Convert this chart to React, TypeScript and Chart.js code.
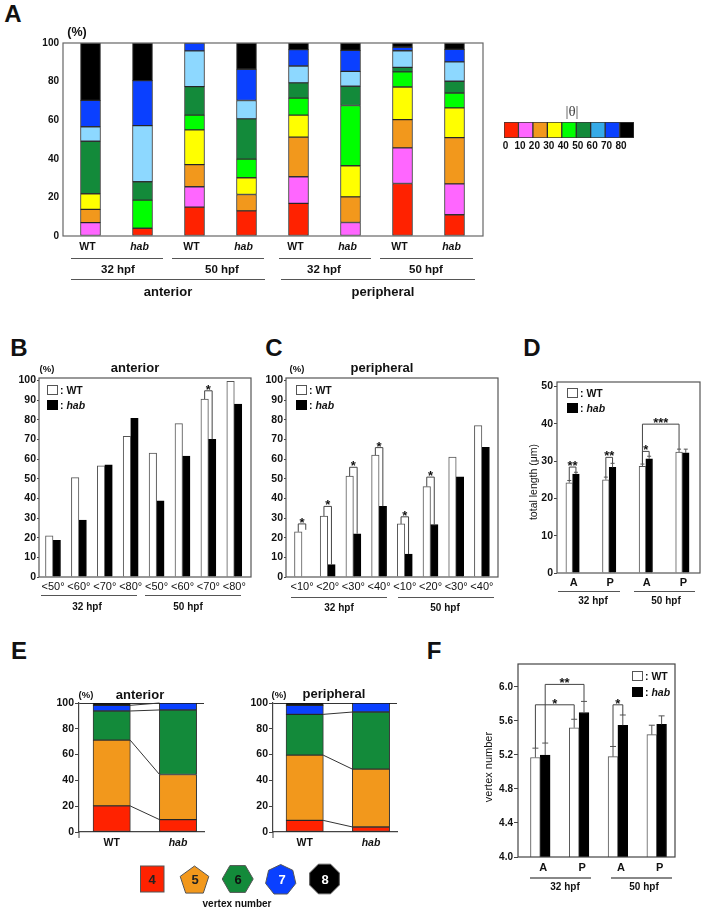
import React, { useEffect, useRef } from "react";
import { Chart, registerables } from "chart.js";

Chart.register(...registerables);

const FONT = '"Liberation Sans", Arial, sans-serif';
const INK = "#111";
const FRAME = "#555";

/* ---------- Panel A data ---------- */
const aLabels = ["WT", "hab", "WT", "hab", "WT", "hab", "WT", "hab"];
const aRed = [0, 4, 15, 13, 16.9, 0, 27.2, 11];
const aPink = [6.9, 0, 10.5, 0, 13.8, 7, 18.5, 16];
const aOrange = [6.9, 0, 11.5, 8.5, 20.5, 13.3, 14.6, 24];
const aYellow = [8.1, 0, 18, 8.7, 11.4, 16.1, 16.9, 15.4];
const aGreen = [0, 14.6, 7.6, 9.6, 8.8, 31.2, 7.8, 7.7];
const aDarkGreen = [27.2, 9.5, 14.8, 20.9, 7.9, 10, 2.4, 6.1];
const aLightBlue = [7.5, 29.1, 18.5, 9.5, 8.8, 7.7, 8.6, 10];
const aBlue = [13.7, 23.3, 4.1, 16.2, 8.5, 10.9, 1.8, 6.5];
const aBlack = [29.7, 19.5, 0, 13.6, 3.4, 3.8, 2.2, 3.3];
const aBins = [aRed, aPink, aOrange, aYellow, aGreen, aDarkGreen, aLightBlue, aBlue, aBlack];
const aColors = ["#FF2200", "#FF66FF", "#F2981C", "#FFFF00", "#00FF00", "#138A3A", "#8DD8FF", "#0A40FF", "#000000"];

/* ---------- Colour key ---------- */
const keyBinSize = [10];
const keyColors = ["#FF2200", "#FF66FF", "#F2981C", "#FFFF00", "#00FF00", "#138A3A", "#35AAE8", "#0A40FF", "#000000"];

/* ---------- Panel B data ---------- */
const bLabels = ["<50°", "<60°", "<70°", "<80°", "<50°", "<60°", "<70°", "<80°"];
const bWT = [21, 50.5, 56.5, 71.5, 63, 78, 90.5, 99.5];
const bHab = [18.7, 29, 57, 80.7, 38.7, 61.5, 70, 88];

/* ---------- Panel C data ---------- */
const cLabels = ["<10°", "<20°", "<30°", "<40°", "<10°", "<20°", "<30°", "<40°"];
const cWT = [23, 31, 51.3, 62, 27, 46, 61, 77];
const cHab = [0, 6.3, 22, 36, 11.7, 26.7, 51, 66];

/* ---------- Panel D data ---------- */
const dLabels = ["A", "P", "A", "P"];
const dWT = [24.2, 25, 28.6, 32.4];
const dHab = [26.5, 28.3, 30.6, 32.2];
const dWTTop = [24.8, 25.7, 29.2, 33.2];
const dHabTop = [27, 29.4, 31.3, 33.2];

/* ---------- Panel E data ---------- */
const eLabels = ["WT", "hab"];
const eAnt4 = [20.2, 9.6];
const eAnt5 = [51, 35];
const eAnt6 = [22.6, 50];
const eAnt7 = [4.4, 5.4];
const eAnt8 = [1.8, 0];
const ePer4 = [9, 3.9];
const ePer5 = [50.6, 44.8];
const ePer6 = [31.6, 44.3];
const ePer7 = [7, 7];
const ePer8 = [1.8, 0];
const eColors = ["#FF2200", "#F2981C", "#138A3A", "#0A40FF", "#000000"];

/* ---------- Panel F data ---------- */
const fLabels = ["A", "P", "A", "P"];
const fWT = [5.17, 5.52, 5.18, 5.44];
const fHab = [5.2, 5.7, 5.55, 5.56];
const fWTTop = [5.28, 5.62, 5.3, 5.55];
const fHabTop = [5.34, 5.83, 5.67, 5.66];

/* ---------- Significance brackets: [series, group] pairs, bracket height in axis units ---------- */
const bBrackets = [{ a: [0, 6], b: [1, 6], top: 94.7, stars: "*" }];
const cBrackets = [
  { a: [0, 0], b: [1, 0], top: 27, stars: "*", bTo: 24 },
  { a: [0, 1], b: [1, 1], top: 35.9, stars: "*" },
  { a: [0, 2], b: [1, 2], top: 55.8, stars: "*" },
  { a: [0, 3], b: [1, 3], top: 65.8, stars: "*" },
  { a: [0, 4], b: [1, 4], top: 30.6, stars: "*" },
  { a: [0, 5], b: [1, 5], top: 50.8, stars: "*" },
];
const dBrackets = [
  { a: [0, 0], b: [1, 0], top: 28.4, stars: "**" },
  { a: [0, 1], b: [1, 1], top: 31, stars: "**" },
  { a: [0, 2], b: [1, 2], top: 32.6, stars: "*" },
  { a: [0, 2], b: [0, 3], top: 39.9, stars: "***", aTo: 29.6 },
];
const fBrackets = [
  { a: [1, 0], b: [1, 1], top: 6.03, stars: "**" },
  { a: [0, 0], b: [0, 1], top: 5.79, stars: "*" },
  { a: [0, 2], b: [1, 2], top: 5.79, stars: "*" },
];

type Rect = { l: number; t: number; r: number; b: number };
const M = { l: 45, t: 10, r: 10, b: 30 };

const framePlugin = (color: string) => ({
  id: "frame",
  afterDatasetsDraw(chart: any) {
    const { left, top, right, bottom } = chart.chartArea;
    const c = chart.ctx;
    c.save();
    c.strokeStyle = color;
    c.lineWidth = 1.2;
    c.strokeRect(left, top, right - left, bottom - top);
    c.restore();
  },
});

const errorPlugin = (tops: number[][], cap: number) => ({
  id: "errors",
  afterDatasetsDraw(chart: any) {
    const c = chart.ctx;
    const y = chart.scales.y;
    c.save();
    c.strokeStyle = "#555";
    c.lineWidth = 1;
    tops.forEach((arr, ds) =>
      arr.forEach((v, i) => {
        const el = chart.getDatasetMeta(ds).data[i];
        const yT = y.getPixelForValue(v);
        c.beginPath();
        c.moveTo(el.x, el.y);
        c.lineTo(el.x, yT);
        c.moveTo(el.x - cap, yT);
        c.lineTo(el.x + cap, yT);
        c.stroke();
      })
    );
    c.restore();
  },
});

const bracketPlugin = (brackets: any[], series: number[][]) => ({
  id: "brackets",
  afterDatasetsDraw(chart: any) {
    const c = chart.ctx;
    const y = chart.scales.y;
    c.save();
    brackets.forEach((br) => {
      const xa = chart.getDatasetMeta(br.a[0]).data[br.a[1]].x;
      const xb = chart.getDatasetMeta(br.b[0]).data[br.b[1]].x;
      const ya = y.getPixelForValue(br.aTo ?? series[br.a[0]][br.a[1]]);
      const yb = y.getPixelForValue(br.bTo ?? series[br.b[0]][br.b[1]]);
      const yt = y.getPixelForValue(br.top);
      c.strokeStyle = "#444";
      c.lineWidth = 1;
      c.beginPath();
      c.moveTo(xa, ya);
      c.lineTo(xa, yt);
      c.lineTo(xb, yt);
      c.lineTo(xb, yb);
      c.stroke();
      c.fillStyle = INK;
      c.font = `bold 13px ${FONT}`;
      c.textAlign = "center";
      c.textBaseline = "alphabetic";
      c.fillText(br.stars, (xa + xb) / 2, yt + 3);
    });
    c.restore();
  },
});

const connectorPlugin = (segments: number[][], joins: number[]) => ({
  id: "connectors",
  afterDatasetsDraw(chart: any) {
    const c = chart.ctx;
    const y = chart.scales.y;
    const half = 18.5;
    c.save();
    c.strokeStyle = "#333";
    c.lineWidth = 1;
    joins.forEach((k) => {
      const sum = (col: number) => segments.slice(0, k + 1).reduce((s, a) => s + a[col], 0);
      const e0 = chart.getDatasetMeta(0).data[0];
      const e1 = chart.getDatasetMeta(0).data[1];
      c.beginPath();
      c.moveTo(e0.x + half, y.getPixelForValue(sum(0)));
      c.lineTo(e1.x - half, y.getPixelForValue(sum(1)));
      c.stroke();
    });
    const { left, bottom } = chart.chartArea;
    c.strokeStyle = "#444";
    c.beginPath();
    c.moveTo(left, bottom);
    c.lineTo(left, bottom + 6);
    c.stroke();
    c.restore();
  },
});

function xScale(rect: Rect, labels: string[], c0: number, step: number, o: any = {}) {
  return {
    type: "linear",
    offset: false,
    stacked: !!o.stacked,
    min: (rect.l - c0) / step,
    max: (rect.r - c0) / step,
    afterFit: (s: any) => {
      s.height = M.b;
    },
    grid: { display: false, drawTicks: false },
    border: { display: !!o.border, color: "#444", width: 1.2 },
    ticks: {
      stepSize: 1,
      includeBounds: false,
      autoSkip: false,
      maxRotation: 0,
      minRotation: 0,
      padding: o.pad ?? 5,
      labelOffset: o.labelOffset ?? 0,
      color: INK,
      callback: (v: number) => labels[v] ?? "",
      font: (ctx: any) => ({
        family: FONT,
        size: o.size ?? 10.5,
        weight: o.weight ?? "bold",
        style: labels[ctx.tick?.value] === "hab" ? "italic" : "normal",
      }),
    },
  };
}

function yScale(o: any) {
  return {
    type: "linear",
    stacked: !!o.stacked,
    min: o.min ?? 0,
    max: o.max,
    afterFit: (s: any) => {
      s.width = M.l;
    },
    border: { display: !!o.border, color: "#444", width: 1.2 },
    grid: {
      drawOnChartArea: !!o.topLine,
      drawTicks: o.tick > 0,
      tickLength: o.tick,
      tickColor: "#444",
      color: (ctx: any) => (o.topLine && ctx.tick?.value === o.max ? "#333" : "rgba(0,0,0,0)"),
    },
    ticks: {
      stepSize: o.step,
      includeBounds: false,
      padding: o.pad ?? 2,
      color: INK,
      font: { family: FONT, size: o.size ?? 10, weight: "bold" },
      callback: (v: number) => (o.fixed ? v.toFixed(o.fixed) : String(v)),
    },
  };
}

function base(rect: Rect, scales: any, plugins: any[], datasets: any[]) {
  return {
    type: "bar",
    data: { datasets },
    plugins,
    options: {
      responsive: false,
      animation: false,
      events: [],
      layout: { padding: { left: 0, top: M.t, right: M.r, bottom: 0 } },
      plugins: { legend: { display: false }, tooltip: { enabled: false } },
      scales,
    },
  };
}

function stackedSets(bins: number[][], colors: string[], thick: number) {
  return bins.map((vals, k) => ({
    label: String(k),
    data: vals.map((v, i) => ({ x: i, y: v })),
    backgroundColor: colors[k],
    borderColor: "rgba(20,20,20,0.85)",
    borderWidth: 1,
    borderSkipped: false,
    barThickness: thick,
  }));
}

function pairSets(wt: number[], hab: number[], thick: number) {
  const mk = (vals: number[], label: string, fill: string, line: string) => ({
    label,
    data: vals.map((v, i) => ({ x: i, y: v })),
    backgroundColor: fill,
    borderColor: line,
    borderWidth: 1,
    borderSkipped: "bottom",
    barThickness: thick,
  });
  return [mk(wt, "WT", "#fff", "#555"), mk(hab, "hab", "#000", "#000")];
}

const rectA: Rect = { l: 63, t: 43, r: 483, b: 236 };
const rectB: Rect = { l: 39, t: 378, r: 251, b: 577 };
const rectC: Rect = { l: 286, t: 378, r: 498, b: 577 };
const rectD: Rect = { l: 557, t: 382, r: 700, b: 573 };
const rectE1: Rect = { l: 79, t: 703, r: 204, b: 832 };
const rectE2: Rect = { l: 273, t: 703, r: 397, b: 832 };
const rectF: Rect = { l: 518, t: 664, r: 675, b: 857 };
const rectKey: Rect = { l: 504, t: 122, r: 634, b: 138 };

const panels: { rect: Rect; config: () => any }[] = [
  {
    rect: rectA,
    config: () =>
      base(
        rectA,
        {
          x: xScale(rectA, aLabels, 90.5, 52, { stacked: true, labelOffset: -3 }),
          y: yScale({ stacked: true, max: 100, step: 20, tick: 0, pad: 4 }),
        },
        [framePlugin("#666")],
        stackedSets(aBins, aColors, 20)
      ),
  },
  {
    rect: rectKey,
    config: () => ({
      type: "bar",
      data: {
        labels: ["|θ|"],
        datasets: keyColors.map((col, k) => ({
          label: String(k * 10),
          data: keyBinSize,
          backgroundColor: col,
          borderColor: "rgba(20,20,20,0.85)",
          borderWidth: 1,
          borderSkipped: false,
          barPercentage: 1,
          categoryPercentage: 1,
        })),
      },
      plugins: [],
      options: {
        indexAxis: "y",
        responsive: false,
        animation: false,
        events: [],
        layout: { padding: { left: M.l, top: M.t, right: M.r, bottom: 0 } },
        plugins: { legend: { display: false }, tooltip: { enabled: false } },
        scales: {
          x: {
            type: "linear",
            stacked: true,
            min: 0,
            max: 90,
            afterFit: (s: any) => {
              s.height = M.b;
            },
            grid: { display: false, drawTicks: false },
            border: { display: false },
            ticks: {
              stepSize: 10,
              padding: 2,
              autoSkip: false,
              maxRotation: 0,
              labelOffset: 1.5,
              color: INK,
              font: { family: FONT, size: 10, weight: "bold" },
              callback: (v: number) => (v <= 80 ? String(v) : ""),
            },
          },
          y: { stacked: true, display: false },
        },
      },
    }),
  },
  {
    rect: rectB,
    config: () =>
      base(
        rectB,
        {
          x: xScale(rectB, bLabels, 53, 25.9, { size: 11, weight: "normal", pad: 3 }),
          y: yScale({ max: 101.2, step: 10, tick: 2, pad: 1, size: 10.5 }),
        },
        [framePlugin(FRAME), bracketPlugin(bBrackets, [bWT, bHab])],
        pairSets(bWT, bHab, 7.5)
      ),
  },
  {
    rect: rectC,
    config: () =>
      base(
        rectC,
        {
          x: xScale(rectC, cLabels, 302, 25.7, { size: 11, weight: "normal", pad: 3 }),
          y: yScale({ max: 101.2, step: 10, tick: 2, pad: 1, size: 10.5 }),
        },
        [framePlugin(FRAME), bracketPlugin(cBrackets, [cWT, cHab])],
        pairSets(cWT, cHab, 7.5)
      ),
  },
  {
    rect: rectD,
    config: () =>
      base(
        rectD,
        {
          x: xScale(rectD, dLabels, 572.6, 36.6, { size: 11, pad: 3, labelOffset: 1 }),
          y: yScale({ max: 51.2, step: 10, tick: 3, pad: 1, size: 10.5 }),
        },
        [
          framePlugin(FRAME),
          errorPlugin([dWTTop, dHabTop], 2),
          bracketPlugin(dBrackets, [dWTTop, dHabTop]),
        ],
        pairSets(dWT, dHab, 6.7)
      ),
  },
  {
    rect: rectE1,
    config: () =>
      base(
        rectE1,
        {
          x: xScale(rectE1, eLabels, 111.7, 66.3, { stacked: true, border: true, pad: 5 }),
          y: yScale({ stacked: true, max: 100, step: 20, tick: 4, pad: 1, border: true, topLine: true, size: 10.5 }),
        },
        [connectorPlugin([eAnt4, eAnt5, eAnt6, eAnt7, eAnt8], [0, 1, 2, 3])],
        stackedSets([eAnt4, eAnt5, eAnt6, eAnt7, eAnt8], eColors, 37.3)
      ),
  },
  {
    rect: rectE2,
    config: () =>
      base(
        rectE2,
        {
          x: xScale(rectE2, eLabels, 304.7, 66.3, { stacked: true, border: true, pad: 5 }),
          y: yScale({ stacked: true, max: 100, step: 20, tick: 4, pad: 1, border: true, topLine: true, size: 10.5 }),
        },
        [connectorPlugin([ePer4, ePer5, ePer6, ePer7, ePer8], [0, 1, 2])],
        stackedSets([ePer4, ePer5, ePer6, ePer7, ePer8], eColors, 37.3)
      ),
  },
  {
    rect: rectF,
    config: () =>
      base(
        rectF,
        {
          x: xScale(rectF, fLabels, 540.3, 38.8, { size: 11, pad: 4, labelOffset: 3 }),
          y: yScale({ min: 4, max: 6.27, step: 0.4, tick: 4, pad: 1, fixed: 1, size: 10 }),
        },
        [
          framePlugin("#444"),
          errorPlugin([fWTTop, fHabTop], 3),
          bracketPlugin(fBrackets, [fWTTop, fHabTop]),
        ],
        pairSets(fWT, fHab, 9.8)
      ),
  },
];

/* ---------- DOM annotations ---------- */
function T(p: any) {
  const { x, y, s, size = 10, w = "bold", i, anchor = "c", color = INK, rot, serif } = p;
  const tx = anchor === "c" ? "-50%" : "0";
  return (
    <span
      style={{
        position: "absolute",
        left: x,
        top: y,
        transform: `translate(${tx},-50%)${rot ? ` rotate(${rot}deg)` : ""}`,
        fontFamily: serif ? '"Liberation Serif", serif' : FONT,
        fontSize: size,
        fontWeight: w,
        fontStyle: i ? "italic" : "normal",
        color,
        whiteSpace: "nowrap",
        lineHeight: 1,
      }}
    >
      {s}
    </span>
  );
}

function HL({ x1, x2, y, h = 1, c = "#555" }: any) {
  return <div style={{ position: "absolute", left: x1, top: y, width: x2 - x1, height: h, background: c }} />;
}

function Box({ x, y, w, h, black }: any) {
  return (
    <div
      style={{
        position: "absolute",
        left: x,
        top: y,
        width: w,
        height: h,
        boxSizing: "border-box",
        background: black ? "#000" : "#fff",
        border: `1px solid ${black ? "#000" : "#555"}`,
      }}
    />
  );
}

function Key({ bx, tx, y1, y2, w = 10.5, h = 10, size = 10.5 }: any) {
  return (
    <>
      <Box x={bx} y={y1} w={w} h={h} />
      <Box x={bx} y={y2} w={w} h={h} black />
      <T x={tx} y={y1 + h / 2} s=": WT" anchor="l" size={size} />
      <span
        style={{
          position: "absolute",
          left: tx,
          top: y2 + h / 2,
          transform: "translateY(-50%)",
          fontFamily: FONT,
          fontSize: size,
          fontWeight: "bold",
          color: INK,
          whiteSpace: "nowrap",
          lineHeight: 1,
        }}
      >
        : <i>hab</i>
      </span>
    </>
  );
}

function poly(n: number, cx: number, cy: number, r: number, start: number) {
  const pts: string[] = [];
  for (let i = 0; i < n; i++) {
    const a = start + (i * 2 * Math.PI) / n;
    pts.push(`${(cx + r * Math.cos(a)).toFixed(1)},${(cy + r * Math.sin(a)).toFixed(1)}`);
  }
  return pts.join(" ");
}

function Shapes() {
  const stroke = "#555";
  const num = (x: number, y: number, s: string, fill: string) => (
    <text x={x} y={y} textAnchor="middle" fontFamily={FONT} fontWeight="bold" fontSize={13} fill={fill}>
      {s}
    </text>
  );
  return (
    <svg width={704} height={913} style={{ position: "absolute", left: 0, top: 0 }}>
      <rect x={140.5} y={866} width={23.5} height={26} fill="#FF2200" stroke={stroke} />
      {num(152, 884, "4", "#222")}
      <polygon points={poly(5, 194.5, 881, 15, -Math.PI / 2)} fill="#F2981C" stroke={stroke} />
      {num(195, 884, "5", "#222")}
      <polygon points={poly(6, 237.7, 879, 15.5, 0)} fill="#138A3A" stroke={stroke} />
      {num(238, 884, "6", "#111")}
      <polygon points={poly(7, 280.7, 880, 15.5, -Math.PI / 2)} fill="#0A40FF" stroke={stroke} />
      {num(282, 884, "7", "#fff")}
      <polygon points={poly(8, 324.5, 879, 16, Math.PI / 8)} fill="#000" stroke={stroke} />
      {num(325, 884, "8", "#fff")}
    </svg>
  );
}

export default function App() {
  const refs = useRef<(HTMLCanvasElement | null)[]>([]);
  useEffect(() => {
    const charts = panels.map((p, i) => new Chart(refs.current[i] as any, p.config()));
    return () => charts.forEach((c) => c.destroy());
  }, []);

  return (
    <div style={{ position: "absolute", left: 0, top: 0, width: 704, height: 913, background: "#fff", overflow: "hidden" }}>
      {panels.map((p, i) => (
        <canvas
          key={i}
          ref={(el) => {
            refs.current[i] = el;
          }}
          width={p.rect.r - p.rect.l + M.l + M.r}
          height={p.rect.b - p.rect.t + M.t + M.b}
          style={{ position: "absolute", left: p.rect.l - M.l, top: p.rect.t - M.t }}
        />
      ))}

      {/* Panel letters */}
      <T x={13} y={14} s="A" size={24} />
      <T x={19} y={348} s="B" size={24} />
      <T x={274} y={348} s="C" size={24} />
      <T x={532} y={348} s="D" size={24} />
      <T x={19} y={651} s="E" size={24} />
      <T x={434} y={651} s="F" size={24} />

      {/* Panel A */}
      <T x={77} y={32} s="(%)" size={12.5} />
      <HL x1={71} x2={163} y={258} />
      <HL x1={172} x2={264} y={258} />
      <HL x1={279} x2={371} y={258} />
      <HL x1={380} x2={473} y={258} />
      <T x={118} y={269.5} s="32 hpf" size={11.5} />
      <T x={222} y={269.5} s="50 hpf" size={11.5} />
      <T x={324} y={269.5} s="32 hpf" size={11.5} />
      <T x={426} y={269.5} s="50 hpf" size={11.5} />
      <HL x1={71} x2={265} y={279} />
      <HL x1={281} x2={475} y={279} />
      <T x={168} y={290.5} s="anterior" size={13} />
      <T x={383} y={290.5} s="peripheral" size={13} />
      <T x={572} y={111} s="|θ|" size={15} w="normal" serif color="#444" />

      {/* Panel B */}
      <T x={47} y={368.5} s="(%)" size={9.5} />
      <T x={135} y={367} s="anterior" size={13} />
      <Key bx={47} tx={60} y1={385} y2={400} />
      <HL x1={41} x2={137} y={595} />
      <HL x1={145} x2={241} y={595} />
      <T x={87} y={607} s="32 hpf" />
      <T x={188} y={607} s="50 hpf" />

      {/* Panel C */}
      <T x={297} y={368.5} s="(%)" size={9.5} />
      <T x={382} y={367} s="peripheral" size={13} />
      <Key bx={296} tx={309} y1={385} y2={400} />
      <HL x1={291} x2={387} y={597} />
      <HL x1={398} x2={494} y={597} />
      <T x={339} y={607.5} s="32 hpf" />
      <T x={445} y={607.5} s="50 hpf" />

      {/* Panel D */}
      <T x={533} y={482} s="total length (μm)" size={10.5} w="normal" rot={-90} />
      <Key bx={567} tx={580} y1={388} y2={403} />
      <HL x1={558} x2={620} y={591} />
      <HL x1={634} x2={695} y={591} />
      <T x={593} y={600.5} s="32 hpf" />
      <T x={666} y={600.5} s="50 hpf" />

      {/* Panel E */}
      <T x={86} y={694.5} s="(%)" size={9.5} />
      <T x={140} y={693.5} s="anterior" size={13} />
      <T x={279} y={694.5} s="(%)" size={9.5} />
      <T x={334} y={692.5} s="peripheral" size={13} />
      <Shapes />
      <T x={237} y={904} s="vertex number" />

      {/* Panel F */}
      <T x={487.5} y={767} s="vertex number" size={11} w="normal" rot={-90} />
      <Key bx={632} tx={645} y1={671} y2={687} />
      <HL x1={530} x2={591} y={877} h={2} c="#888" />
      <HL x1={611} x2={672} y={877} h={2} c="#888" />
      <T x={565} y={886.5} s="32 hpf" />
      <T x={644} y={886.5} s="50 hpf" />
    </div>
  );
}
